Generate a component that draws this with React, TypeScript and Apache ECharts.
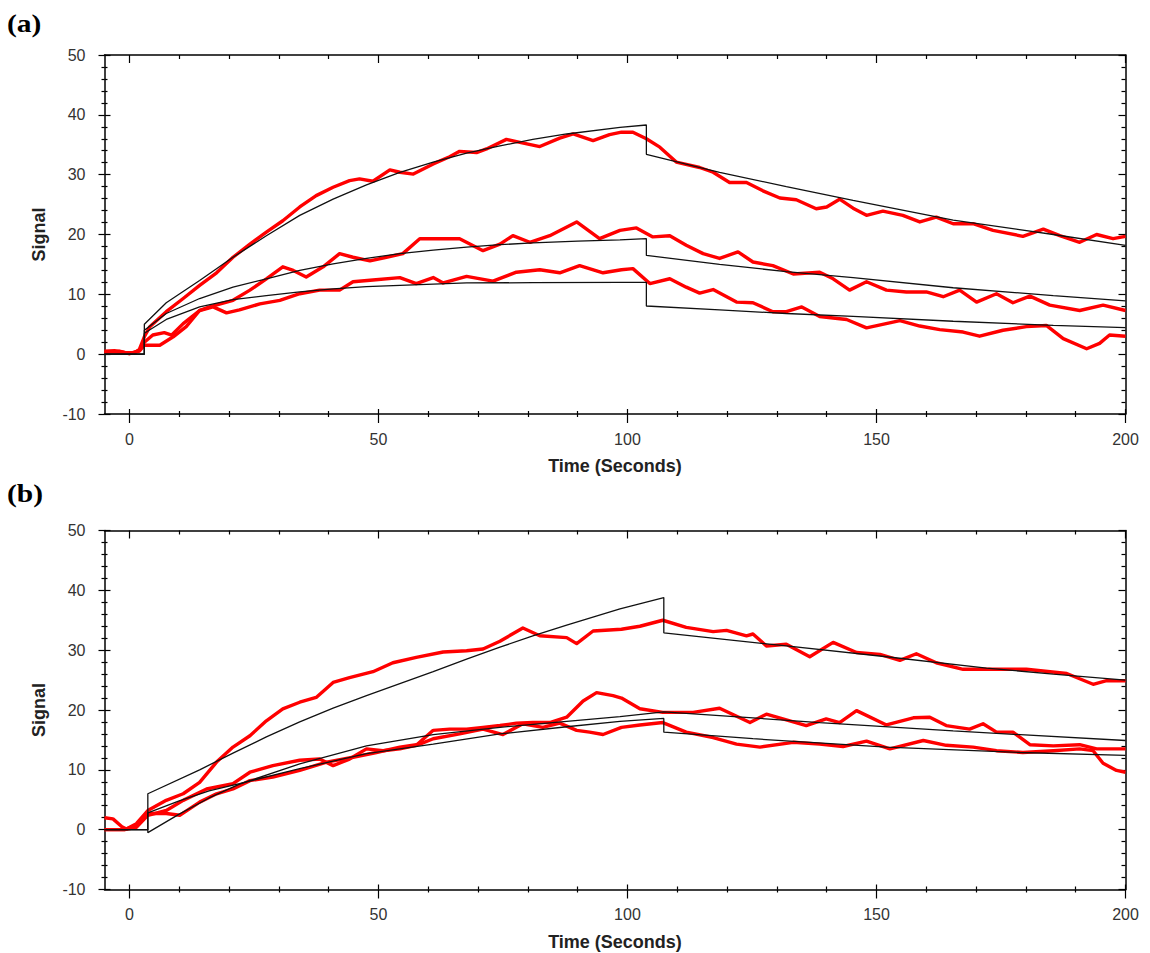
import React, { useEffect, useRef } from "react";
import * as echarts from "echarts";

// ---------- tick / label definitions ----------
const xMajorTicks = [0, 50, 100, 150, 200];
const xMinorTicks = [10, 20, 30, 40, 60, 70, 80, 90, 110, 120, 130, 140, 160, 170, 180, 190];
const yMajorTicks = [-10, 0, 10, 20, 30, 40, 50];
const yMinorTicks = [-8, -6, -4, -2, 2, 4, 6, 8, 12, 14, 16, 18, 22, 24, 26, 28, 32, 34, 36, 38, 42, 44, 46, 48];
const panelLabels = ["(a)", "(b)"];
const xAxisTitle = "Time (Seconds)";
const yAxisTitle = "Signal";

// ---------- panel (a): measured (red) ----------
const redA1: number[][] = [[-5,0.5],[-3,0.6],[-1,0.3],[1,0.2],[2,0.8],[3,2.9],[4.1,4.6],[7.4,7.1],[10.8,9.3],[14.1,11.5],[17.5,13.6],[20.8,16.2],[24.2,18.4],[27.5,20.4],[30.8,22.3],[34.2,24.6],[37.5,26.5],[40.9,27.9],[44.2,29],[46.2,29.3],[48.9,28.9],[52.3,30.8],[54.3,30.4],[57,30.1],[61,31.8],[64.3,33],[66.3,33.9],[69.7,33.7],[71.7,34.3],[75.7,35.9],[78.4,35.4],[82.4,34.7],[86.4,36.1],[89.1,36.8],[93.1,35.7],[96.4,36.7],[98.8,37.1],[101.1,37.1],[103.8,36],[106.5,34.6],[109.8,32.1],[114.5,31.2],[117.2,30.4],[120.5,28.7],[123.9,28.7],[127.2,27.3],[130.6,26.1],[133.9,25.8],[137.9,24.3],[140,24.6],[142.6,25.9],[145.3,24.4],[148,23.2],[151.3,23.9],[155.3,23.2],[158.7,22.1],[162,22.9],[165.4,21.8],[169.4,21.8],[173.4,20.7],[179.4,19.7],[183.5,20.9],[186.8,19.8],[190.8,18.7],[194.2,20],[197.5,19.3],[200,19.7]];
const redA2: number[][] = [[-5,0.3],[-2,0.5],[0,0.1],[2,0.6],[3,2.0],[4.7,3.2],[7,3.6],[8.5,3.2],[10.8,5.1],[14.1,7.3],[16.1,7.9],[20.8,9.0],[24.2,10.7],[27.5,12.6],[30.8,14.6],[32.9,14.0],[35.5,12.9],[38.9,14.6],[42.2,16.8],[44.9,16.2],[48.3,15.6],[51.6,16.2],[54.9,16.8],[58.3,19.3],[62.3,19.3],[66.3,19.3],[71,17.3],[74.4,18.4],[77,19.8],[80.4,18.7],[84.4,19.8],[89.8,22.1],[94.4,19.3],[98.5,20.7],[101.8,21.1],[105.1,19.6],[108.5,19.8],[111.8,18.2],[115.2,16.8],[118.5,16.0],[122.2,17.1],[125.2,15.4],[129.2,14.8],[133.3,13.4],[138.6,13.7],[141.3,12.6],[144.6,10.7],[148,12.1],[152,10.7],[156,10.4],[160,10.4],[163.4,9.6],[166.7,10.7],[170.1,8.7],[174.1,10.1],[177.4,8.6],[180.8,9.7],[184.8,8.2],[190.8,7.3],[195.5,8.2],[200,7.3]];
const redA3: number[][] = [[-5,0.4],[-2,0.3],[0,0.1],[2,0.5],[3,1.5],[6.1,1.5],[8.8,2.9],[11.4,4.6],[14.1,7.3],[16.8,7.9],[19.5,6.9],[22.1,7.4],[26.2,8.4],[30.2,9.0],[34.2,10.1],[38.2,10.7],[42.2,10.7],[44.9,12.1],[48.9,12.4],[54.3,12.8],[57.6,11.8],[61,12.8],[63,11.9],[67.7,13.0],[73,12.2],[77.7,13.7],[82.4,14.1],[86.4,13.6],[90.4,14.8],[95.1,13.6],[98.8,14.1],[101.1,14.3],[104.5,11.8],[108.5,12.6],[111.8,11.2],[114.5,10.2],[117.2,10.8],[121.9,8.7],[125.2,8.6],[129.2,7.1],[131.9,7.1],[135,7.9],[138.6,6.3],[144,5.8],[148,4.4],[154.7,5.6],[158.7,4.7],[162.7,4.1],[167.4,3.7],[170.7,3.0],[175.4,4.0],[180.1,4.6],[184.1,4.8],[187.5,2.6],[192.2,0.9],[194.8,1.8],[196.8,3.2],[200,3.0]];

// ---------- panel (a): fitted (black) ----------
const fitA1: number[][] = [[-5,0],[3,0],[3,5.0],[7.4,8.6],[14.1,12.3],[20.8,16.2],[27.5,19.8],[34.2,23.2],[40.9,25.9],[47.6,28.3],[54.3,30.4],[61,32.1],[67.7,33.6],[74.4,34.8],[81,35.9],[87.8,36.8],[98.5,37.9],[103.8,38.3],[103.8,33.4],[118.5,30.4],[131.9,28.0],[145.3,25.7],[165.4,22.4],[185.5,20.0],[200,18.2]];
const fitA2: number[][] = [[-5,0],[3,0],[3,4.0],[7.4,6.8],[14.1,9.3],[20.8,11.2],[27.5,12.6],[34.2,14.0],[40.9,15.1],[47.6,16.0],[54.3,16.8],[61,17.4],[67.7,17.9],[74.4,18.3],[81,18.6],[90,18.9],[98.5,19.1],[103.8,19.3],[103.8,16.5],[118.5,15.0],[131.9,13.8],[145.3,12.8],[165.4,11.1],[185.5,9.8],[200,8.9]];
const fitA3: number[][] = [[-5,0],[3,0],[3,3.5],[7.4,5.8],[14.1,7.9],[20.8,9.1],[27.5,9.8],[34.2,10.4],[40.9,10.9],[47.6,11.3],[54.3,11.5],[61,11.7],[67.7,11.9],[81,11.95],[98.5,12.0],[103.8,12.0],[103.8,8.05],[118.5,7.4],[131.9,6.8],[145.3,6.3],[165.4,5.5],[185.5,4.8],[200,4.45]];

// ---------- panel (b): measured (red) ----------
const redB1: number[][] = [[-5,2.0],[-3.3,1.8],[-1.5,0.5],[-0.6,0.1],[1.4,1.0],[3.7,3.2],[7.4,4.9],[10.8,6.0],[14.1,7.9],[17.5,11.3],[20.8,13.8],[24.2,15.7],[27.5,18.2],[30.8,20.2],[34.2,21.3],[37.5,22.1],[40.9,24.6],[44.2,25.4],[48.9,26.4],[52.9,27.9],[57.6,28.8],[63,29.7],[67.7,29.9],[71,30.2],[74.4,31.5],[79,33.7],[82.4,32.4],[87.8,32.1],[89.8,31.1],[93.1,33.2],[98.8,33.5],[102.5,34.0],[107.1,35.0],[111.8,33.8],[117.2,33.1],[119.9,33.3],[123.9,32.4],[125.2,32.7],[127.9,30.7],[131.9,31.0],[136.6,28.9],[141.3,31.3],[146,29.6],[150.7,29.3],[154.7,28.3],[158,29.4],[162,27.9],[167.4,26.8],[172.1,26.8],[180.1,26.8],[188.2,26.1],[193.5,24.3],[196.2,24.9],[200,24.9]];
const redB2: number[][] = [[-5,0],[-1,0],[1.4,0.4],[3.7,2.4],[7.4,3.2],[10.8,4.9],[15.5,6.8],[20.8,7.7],[24.2,9.6],[28.8,10.7],[34.2,11.6],[38.2,11.8],[40.9,10.7],[44.2,11.8],[47.6,13.5],[50.9,13.2],[54.3,13.5],[57.6,14.1],[61,16.6],[64.3,16.8],[67.7,16.8],[71,17.1],[74.4,17.4],[77.7,17.8],[81,17.9],[84.4,17.9],[87.8,18.8],[91.1,21.5],[93.8,22.9],[97.1,22.4],[98.8,22.0],[102.5,20.2],[107.1,19.6],[113.2,19.6],[118.5,20.3],[124.6,17.9],[127.9,19.3],[135.9,17.4],[139.9,18.5],[142.6,17.9],[146,19.9],[152,17.5],[157.4,18.7],[160.7,18.8],[164,17.4],[168.7,16.8],[171.4,17.7],[174.1,16.3],[177.4,16.3],[180.8,14.2],[185.5,14.0],[190.8,14.2],[194.2,13.5],[200,13.5]];
const redB3: number[][] = [[-5,0],[-1,0],[1.4,0.7],[3.7,2.7],[7.4,2.7],[10.1,2.4],[14.1,4.6],[17.5,6.0],[20.8,6.8],[24.2,8.2],[28.8,8.8],[34.2,9.9],[39.6,11.3],[44.9,12.1],[49.6,12.9],[54.3,13.8],[58.3,14.3],[61,15.2],[66.3,16.0],[71,16.8],[75,15.9],[79,17.7],[83,17.1],[86.4,17.8],[89.8,16.6],[92.4,16.3],[95.1,15.9],[98.8,17.1],[102.5,17.5],[107.1,17.9],[111.8,16.3],[117.2,15.4],[121.9,14.3],[126.6,13.8],[133.3,14.6],[138.6,14.3],[143.3,13.9],[148,14.8],[152.7,13.5],[159.4,14.9],[164,14.1],[169.4,13.8],[174.1,13.2],[179.4,12.9],[185.5,13.2],[190.8,13.5],[193.5,13.2],[195.5,11.1],[198.2,9.9],[200,9.6]];

// ---------- panel (b): fitted (black) ----------
const fitB1: number[][] = [[-5,0],[3.7,0],[3.7,6.0],[14.1,10.0],[20.8,12.8],[27.5,15.5],[34.2,18.0],[40.9,20.3],[47.6,22.4],[54.3,24.4],[61,26.4],[67.7,28.5],[74.4,30.5],[81,32.4],[87.8,34.2],[98.5,36.9],[107.3,38.8],[107.3,32.9],[131.9,30.7],[152,28.9],[172.1,27.0],[185.5,26.0],[200,25.0]];
const fitB2: number[][] = [[-5,0],[3.7,0],[3.7,2.8],[10,4.8],[16,6.5],[22.1,7.7],[34.2,10.2],[47.6,12.7],[61,14.3],[74.4,16.0],[87.8,17.2],[98.5,18.1],[107.3,18.6],[107.3,16.3],[125.2,15.2],[152,13.8],[178.8,12.9],[200,12.4]];
const fitB3: number[][] = [[-5,0],[3.7,0],[3.7,-0.5],[10,2.6],[16,5.3],[22.1,7.6],[34.2,11.0],[47.6,14.0],[61,15.9],[74.4,17.1],[87.8,18.1],[98.5,18.9],[107.3,19.7],[138.6,17.9],[165.4,16.5],[200,14.9]];

const panels = [
  { red: [redA1, redA2, redA3], fit: [fitA1, fitA2, fitA3] },
  { red: [redB1, redB2, redB3], fit: [fitB1, fitB2, fitB3] },
];

const X_MIN = -5, X_MAX = 200, Y_MIN = -10, Y_MAX = 50;
const FONT = '"Liberation Sans", Arial, sans-serif';
const GRIDS = [
  { left: 104.5, top: 55, width: 1021, height: 359 },
  { left: 104.5, top: 530.5, width: 1021, height: 359 },
];
const AXES_PER_GRID = 6;

function tickAxis(kind: "x" | "y", gi: number, pos: string, ticks: number[], inside: boolean, len: number, showLine: boolean) {
  return {
    type: "value",
    gridIndex: gi,
    min: kind === "x" ? X_MIN : Y_MIN,
    max: kind === "x" ? X_MAX : Y_MAX,
    position: pos,
    offset: 0,
    splitLine: { show: false },
    axisLine: { show: showLine, onZero: false, lineStyle: { color: "#000", width: 1.5 } },
    axisTick: { show: true, inside, length: len, customValues: ticks, lineStyle: { color: "#000", width: 1.2 } },
    axisLabel: { show: false },
  };
}

export default function App() {
  const ref = useRef<HTMLDivElement>(null);
  useEffect(() => {
    if (!ref.current) return;
    const chart = echarts.init(ref.current, null, { renderer: "svg" });
    const xAxes: any[] = [];
    const yAxes: any[] = [];
    const series: any[] = [];
    GRIDS.forEach((_, gi) => {
      const mainX: any = tickAxis("x", gi, "bottom", xMajorTicks, false, 9, true);
      mainX.axisLabel = { show: true, customValues: xMajorTicks, margin: 17, color: "#333", fontSize: 16, fontFamily: FONT };
      mainX.name = xAxisTitle;
      mainX.nameLocation = "middle";
      mainX.nameGap = 43;
      mainX.nameTextStyle = { fontWeight: "bold", fontSize: 18, color: "#222", fontFamily: FONT };
      xAxes.push(
        mainX,
        tickAxis("x", gi, "bottom", xMajorTicks, true, 5, false),
        tickAxis("x", gi, "bottom", xMinorTicks, false, 3, false),
        tickAxis("x", gi, "bottom", xMinorTicks, true, 3, false),
        tickAxis("x", gi, "top", xMajorTicks, true, 8, true),
        tickAxis("x", gi, "top", xMinorTicks, true, 4, false)
      );
      const mainY: any = tickAxis("y", gi, "left", yMajorTicks, false, 6, true);
      mainY.axisLabel = { show: true, customValues: yMajorTicks, margin: 19, color: "#333", fontSize: 16, fontFamily: FONT };
      mainY.name = yAxisTitle;
      mainY.nameLocation = "middle";
      mainY.nameGap = 57;
      mainY.nameTextStyle = { fontWeight: "bold", fontSize: 18, color: "#222", fontFamily: FONT };
      yAxes.push(
        mainY,
        tickAxis("y", gi, "left", yMajorTicks, true, 6, false),
        tickAxis("y", gi, "left", yMinorTicks, false, 3, false),
        tickAxis("y", gi, "left", yMinorTicks, true, 3, false),
        tickAxis("y", gi, "right", yMajorTicks, true, 7, true),
        tickAxis("y", gi, "right", yMinorTicks, true, 4, false)
      );
      const p = panels[gi];
      p.red.forEach((d) =>
        series.push({
          type: "line", xAxisIndex: gi * AXES_PER_GRID, yAxisIndex: gi * AXES_PER_GRID, data: d,
          symbol: "none", showSymbol: false, silent: true, z: 2,
          lineStyle: { color: "#ff0000", width: 3.4, join: "round" },
        })
      );
      p.fit.forEach((d) =>
        series.push({
          type: "line", xAxisIndex: gi * AXES_PER_GRID, yAxisIndex: gi * AXES_PER_GRID, data: d,
          symbol: "none", showSymbol: false, silent: true, z: 3,
          lineStyle: { color: "#111", width: 1.3 },
        })
      );
    });
    chart.setOption({
      animation: false,
      backgroundColor: "#fff",
      grid: GRIDS.map((g) => ({ ...g, containLabel: false, outerBoundsMode: "none" })),
      xAxis: xAxes,
      yAxis: yAxes,
      series,
      graphic: panelLabels.map((t, i) => ({
        type: "text",
        x: 7,
        y: i === 0 ? 11 : 481,
        scaleX: 1.18,
        style: { text: t, font: 'bold 25px "Liberation Serif", "Times New Roman", serif', fill: "#000", textVerticalAlign: "top" },
      })),
    });
    return () => chart.dispose();
  }, []);
  return (
    <div
      ref={ref}
      style={{ position: "absolute", left: 0, top: 0, width: 1150, height: 953, background: "#fff" }}
    />
  );
}
